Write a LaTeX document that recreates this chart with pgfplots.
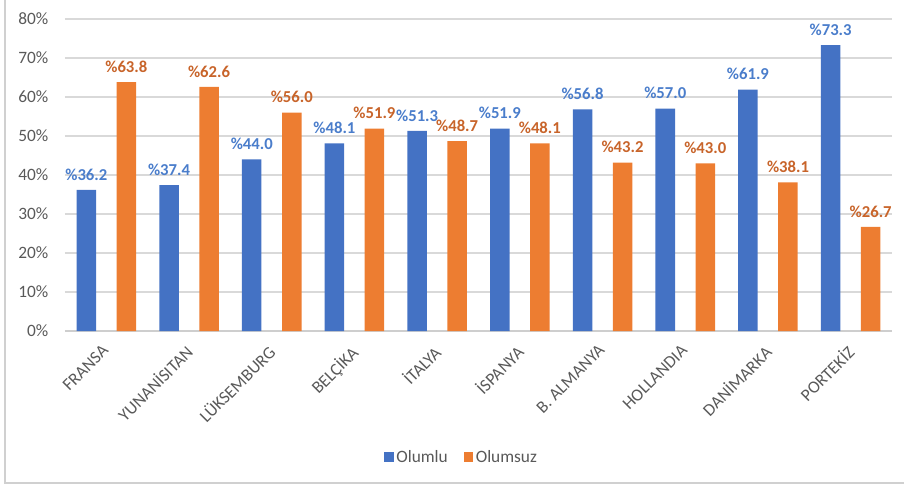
\documentclass[border=0pt]{standalone}
\usepackage{pgfplots}
\pgfplotsset{compat=1.18}
\usepackage{fontspec}
\setmainfont{Carlito}
\definecolor{barblue}{HTML}{4472C4}
\definecolor{barorange}{HTML}{ED7D31}
\definecolor{lblblue}{HTML}{4A7DCB}
\definecolor{lblorange}{HTML}{C8642A}
\definecolor{txtgray}{HTML}{595959}
\definecolor{gridgray}{HTML}{D9D9D9}
\definecolor{framegray}{HTML}{D0D0D0}

\begin{document}
\begin{tikzpicture}
  \path[use as bounding box] (0,0) rectangle (678pt,365.25pt);
  % chart frame (left and bottom edges visible)
  \draw[framegray,line width=1.3pt] (3.75pt,365.25pt) -- (3.75pt,3pt) -- (678pt,3pt);
  \begin{axis}[
      at={(48.75pt,117pt)}, anchor=south west,
      scale only axis,
      width=620.25pt, height=234pt,
      ybar, bar width=0.236,
      xmin=-0.5, xmax=9.5,
      ymin=0, ymax=80,
      ytick={0,10,...,80},
      yticklabel={\pgfmathprintnumber{\tick}\%},
      xtick={0,...,9},
      xticklabels={FRANSA,YUNANİSITAN,LÜKSEMBURG,BELÇİKA,İTALYA,İSPANYA,B. ALMANYA,HOLLANDIA,DANİMARKA,PORTEKİZ},
      xticklabel style={rotate=45,anchor=north east,inner sep=0pt,xshift=-9.3pt,yshift=-4pt,font=\fontsize{13}{15}\selectfont,text=txtgray},
      yticklabel style={font=\fontsize{13}{15}\selectfont,text=txtgray,xshift=-9pt},
      /pgf/number format/assume math mode=true,
      major tick length=0pt,
      ymajorgrids, grid style={gridgray,line width=0.9pt},
      axis x line*=bottom, axis y line*=left,
      y axis line style={draw=none},
      x axis line style={gridgray!80!black!60,line width=0.9pt,-},
      nodes near coords={\%\pgfmathprintnumber[fixed,fixed zerofill,precision=1]{\pgfplotspointmeta}},
      every node near coord/.append style={font=\bfseries\fontsize{12.5}{14}\selectfont,inner sep=0pt,yshift=7pt},
      legend style={at={(0.48,-0.404)},anchor=center,legend columns=2,draw=none,
                    font=\fontsize{13}{15}\selectfont,text=txtgray,
                    /tikz/every even column/.append style={column sep=10pt}},
      legend image code/.code={\fill[#1] (0pt,-3.5pt) rectangle (7pt,3.5pt);},
      clip=false,
    ]
    \addplot[fill=barblue,draw=none,bar shift=-0.242,
             every node near coord/.append style={text=lblblue}] coordinates {
      (0,36.2)(1,37.4)(2,44.0)(3,48.1)(4,51.3)(5,51.9)(6,56.8)(7,57.0)(8,61.9)(9,73.3)};
    \addlegendentry{Olumlu}
    \addplot[fill=barorange,draw=none,bar shift=0.242,
             every node near coord/.append style={text=lblorange}] coordinates {
      (0,63.8)(1,62.6)(2,56.0)(3,51.9)(4,48.7)(5,48.1)(6,43.2)(7,43.0)(8,38.1)(9,26.7)};
    \addlegendentry{Olumsuz}
  \end{axis}
\end{tikzpicture}
\end{document}
